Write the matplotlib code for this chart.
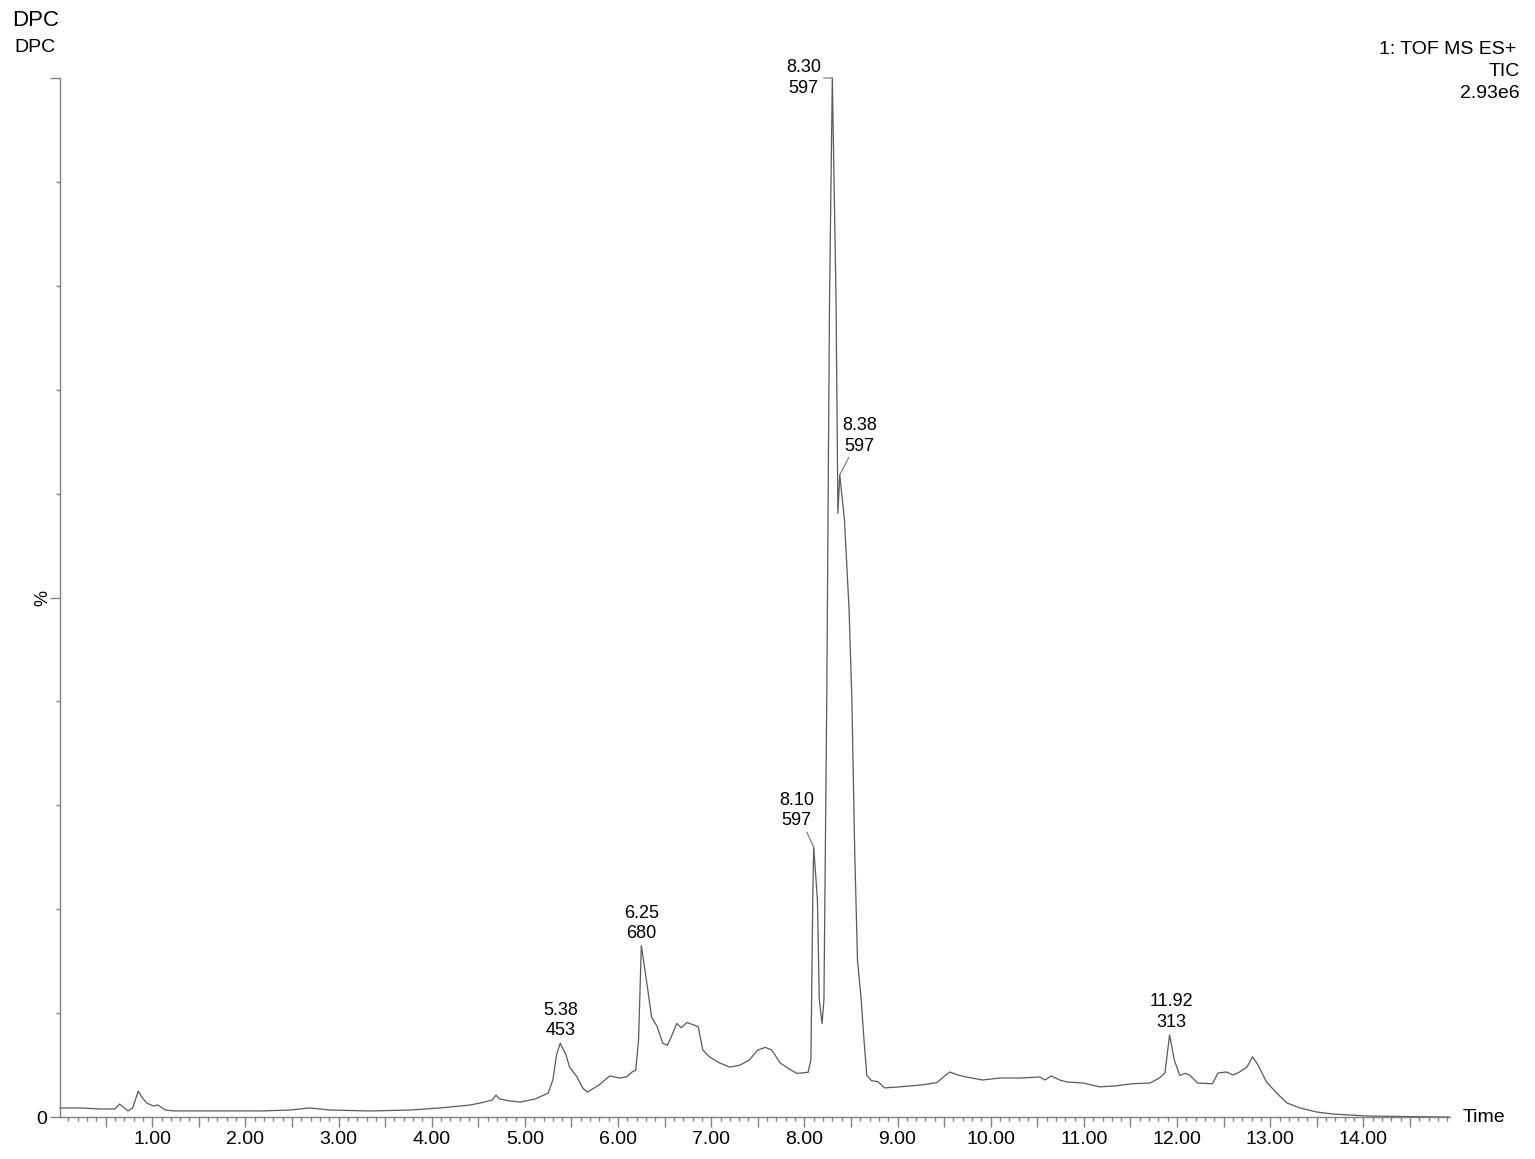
import numpy as np
import matplotlib.pyplot as plt
from matplotlib.ticker import MultipleLocator, FuncFormatter

plt.rcParams['font.family'] = ['Liberation Sans', 'DejaVu Sans']

# --- TIC trace (time in min, relative intensity in %) ---
time = [0.01, 0.23, 0.44, 0.60, 0.65, 0.70, 0.74, 0.79, 0.85, 0.89, 0.94, 1.01, 1.06, 1.14,
        1.24, 1.73, 2.16, 2.48, 2.69, 2.91, 3.34, 3.77, 4.09, 4.41, 4.57, 4.65, 4.69, 4.73,
        4.84, 4.95, 5.11, 5.25, 5.30, 5.34, 5.38, 5.44, 5.48, 5.56, 5.62, 5.67, 5.80, 5.91,
        6.02, 6.09, 6.15, 6.19, 6.22, 6.25, 6.32, 6.36, 6.42, 6.48, 6.53, 6.59, 6.63, 6.68,
        6.74, 6.80, 6.86, 6.91, 6.98, 7.09, 7.20, 7.31, 7.41, 7.50, 7.58, 7.65, 7.74, 7.84,
        7.92, 8.04, 8.07, 8.09, 8.10, 8.14, 8.16, 8.19, 8.21, 8.24, 8.27, 8.30, 8.34, 8.36,
        8.38, 8.43, 8.48, 8.51, 8.54, 8.57, 8.61, 8.64, 8.67, 8.72, 8.79, 8.86, 9.02, 9.27,
        9.42, 9.48, 9.56, 9.65, 9.74, 9.91, 10.10, 10.31, 10.53, 10.58, 10.65, 10.74, 10.82,
        10.99, 11.17, 11.35, 11.52, 11.71, 11.81, 11.87, 11.90, 11.92, 11.97, 12.03, 12.09,
        12.14, 12.22, 12.38, 12.44, 12.53, 12.60, 12.67, 12.75, 12.81, 12.87, 12.96, 13.07,
        13.18, 13.32, 13.50, 13.67, 14.03, 14.39, 14.92]
intensity = [0.87, 0.87, 0.77, 0.77, 1.25, 0.87, 0.58, 0.87, 2.5, 1.9, 1.35, 1.06, 1.15, 0.67,
             0.58, 0.58, 0.58, 0.67, 0.87, 0.67, 0.58, 0.67, 0.87, 1.15, 1.44, 1.64, 2.1, 1.73,
             1.54, 1.44, 1.73, 2.3, 3.56, 6.0, 7.1, 6.0, 4.8, 3.85, 2.8, 2.4, 3.1, 3.95,
             3.75, 3.85, 4.33, 4.5, 7.4, 16.5, 12.2, 9.6, 8.7, 7.1, 6.9, 8.1, 9.0, 8.6,
             9.1, 8.9, 8.7, 6.45, 5.8, 5.2, 4.8, 5.0, 5.5, 6.45, 6.7, 6.45, 5.2, 4.6,
             4.2, 4.3, 5.5, 20.9, 26.0, 20.9, 11.3, 9.0, 11.3, 40.0, 78.6, 100.0, 78.6, 58.1,
             61.8, 57.5, 48.8, 40.1, 25.7, 15.1, 11.3, 7.4, 4.0, 3.5, 3.4, 2.8, 2.9, 3.1,
             3.3, 3.75, 4.33, 4.04, 3.85, 3.56, 3.75, 3.75, 3.85, 3.56, 3.95, 3.56, 3.37,
             3.27, 2.9, 3.0, 3.2, 3.27, 3.75, 4.23, 6.45, 7.9, 5.5, 4.0, 4.2,
             4.0, 3.27, 3.2, 4.23, 4.33, 4.04, 4.33, 4.8, 5.8, 5.0, 3.37, 2.3,
             1.35, 0.87, 0.48, 0.29, 0.1, 0.05, 0.0]

# --- labelled peaks ---
peak_times = [5.38, 6.25, 8.10, 8.30, 8.38, 11.92]
peak_mass = [453, 680, 597, 597, 597, 313]
peak_offsets = [(0, 23), (0, 22), (-17, 36), (-29, 0), (20, 39), (2, 23)]  # pixels
peak_leader = [False, False, True, True, True, False]

W, H = 1535, 1159
fig = plt.figure(figsize=(W / 100, H / 100), dpi=100)
ax = fig.add_axes([60 / W, 1 - 1117 / H, (1450 - 60) / W, (1117 - 78) / H])

line_col = '#5a5a5a'
axis_col = '#808080'

ax.plot(time, intensity, color=line_col, lw=0.9, clip_on=False)

ax.set_xlim(0.01, 14.93)
ax.set_ylim(0, 100)

for s in ['top', 'right']:
    ax.spines[s].set_visible(False)
for s in ['left', 'bottom']:
    ax.spines[s].set_color(axis_col)
    ax.spines[s].set_linewidth(1.0)

# x ticks: majors every 0.5 (labelled on whole minutes), minors every 0.1
ax.xaxis.set_major_locator(MultipleLocator(0.5))
ax.xaxis.set_minor_locator(MultipleLocator(0.1))
ax.xaxis.set_major_formatter(FuncFormatter(
    lambda v, p: f"{v:.2f}" if abs(v - round(v)) < 1e-6 and v > 0.5 else ""))
ax.tick_params(axis='x', which='major', length=7, width=1, color=axis_col,
               labelsize=14, pad=3)
ax.tick_params(axis='x', which='minor', length=3, width=1, color=axis_col)

# y ticks
ax.set_yticks([0, 50, 100])
ax.set_yticklabels(['0', '', ''])
ax.yaxis.set_minor_locator(MultipleLocator(10))
ax.tick_params(axis='y', which='major', length=7, width=1, color=axis_col,
               labelsize=14, pad=2)
ax.tick_params(axis='y', which='minor', length=3, width=1, color=axis_col)

# axis texts
ax.text(-17 / 1390, 0.5, '%', transform=ax.transAxes, rotation=90,
        ha='center', va='center', fontsize=13)
ax.text(1.009, 0.0, 'Time', transform=ax.transAxes, ha='left', va='center',
        fontsize=14)

# peak annotations
for t, m, off, lead in zip(peak_times, peak_mass, peak_offsets, peak_leader):
    h = np.interp(t, time, intensity)
    props = dict(arrowstyle='-', color=axis_col, lw=0.9, shrinkA=0, shrinkB=0) if lead else None
    ax.annotate(f"{t:.2f}\n{m}", xy=(t, h), xytext=off, textcoords='offset pixels',
                ha='center', va='center', fontsize=13, linespacing=1.25,
                arrowprops=props, annotation_clip=False)

# header texts
fig.text(12 / W, 1 - 20 / H, 'DPC', ha='left', va='center', fontsize=16)
fig.text(14 / W, 1 - 48 / H, 'DPC', ha='left', va='center', fontsize=14)
fig.text(1516 / W, 1 - 49 / H, '1: TOF MS ES+', ha='right', va='center', fontsize=14)
fig.text(1520 / W, 1 - 71 / H, 'TIC', ha='right', va='center', fontsize=14)
fig.text(1520 / W, 1 - 93 / H, '2.93e6', ha='right', va='center', fontsize=14)

fig.savefig('out.png', dpi=100)
